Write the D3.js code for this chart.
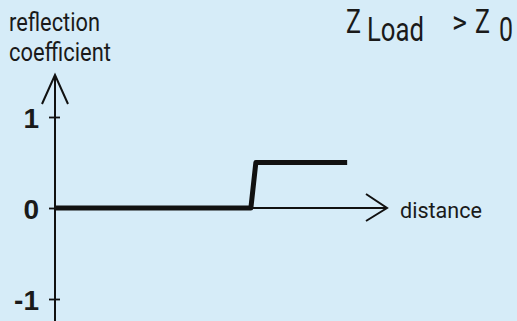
<!DOCTYPE html>
<html>
<head>
<meta charset="utf-8">
<script src="https://cdn.jsdelivr.net/npm/d3@7"></script>
<style>
  body { margin: 0; background: #d6ecf8; }
  svg { display: block; }
  text { font-family: "Roboto", "Liberation Sans", sans-serif; fill: #1a1a1a; }
</style>
</head>
<body>
<svg id="chart" width="517" height="321"></svg>
<script>
// distance along the line vs reflection coefficient (step at the load)
const distance = [0, 5.9, 6.05, 8.8];
const reflection = [0, 0, 0.5, 0.5];
const yTicks = [-1, 0, 1];
const yTickLabels = ["-1", "0", "1"];

const svg = d3.select("#chart");

const x = d3.scaleLinear().domain([0, 10]).range([55, 387]);
const y = d3.scaleLinear().domain([-1, 1]).range([299, 117]);

// y axis with ticks crossing the line
const yAxis = d3.axisLeft(y)
    .tickValues(yTicks)
    .tickFormat((d, i) => yTickLabels[i])
    .tickSize(6)
    .tickPadding(10)
    .tickSizeOuter(0);

const gy = svg.append("g")
    .attr("transform", `translate(${x(0)},0)`)
    .call(yAxis);
gy.select(".domain").remove();
gy.selectAll(".tick line")
    .attr("x1", -6).attr("x2", 5)
    .attr("stroke", "#111").attr("stroke-width", 1.8);
gy.selectAll(".tick text")
    .attr("dy", "0.36em")
    .style("font-family", "'Liberation Sans', Arial, sans-serif")
    .style("font-weight", "bold")
    .style("font-size", "28px")
    .attr("fill", "#111");

// axis lines with open arrowheads
svg.append("line")
    .attr("x1", x(0)).attr("x2", x(0))
    .attr("y1", 321).attr("y2", 75)
    .attr("stroke", "#111").attr("stroke-width", 2);
svg.append("path")
    .attr("d", `M${x(0) - 13},104 L${x(0)},75 L${x(0) + 13},104`)
    .attr("fill", "none").attr("stroke", "#111").attr("stroke-width", 2);

svg.append("line")
    .attr("x1", x(0)).attr("x2", x(10))
    .attr("y1", y(0)).attr("y2", y(0))
    .attr("stroke", "#111").attr("stroke-width", 2);
svg.append("path")
    .attr("d", `M${x(10) - 21},${y(0) - 14} L${x(10)},${y(0)} L${x(10) - 21},${y(0) + 13}`)
    .attr("fill", "none").attr("stroke", "#111").attr("stroke-width", 2);

// data line
const line = d3.line()
    .x((d, i) => x(distance[i]))
    .y(d => y(d));
svg.append("path")
    .datum(reflection)
    .attr("d", line)
    .attr("fill", "none")
    .attr("stroke", "#111")
    .attr("stroke-width", 5)
    .attr("stroke-linejoin", "round");

// labels (condensed by fitting the measured widths)
function label(txt, xp, yp, size, width) {
    svg.append("text").attr("x", xp).attr("y", yp)
        .style("font-size", size + "px")
        .attr("textLength", width).attr("lengthAdjust", "spacingAndGlyphs")
        .text(txt);
}
label("reflection", 9, 31, 25, 91);
label("coefficient", 9, 61, 25, 102);
label("distance", 400, 218, 22, 82);

label("Z", 346, 33, 33, 15);
label("Load", 367, 41, 33, 57);
label(">", 452, 33, 31, 15);
label("Z", 475, 33, 33, 15);
label("0", 499, 41, 33, 14);
</script>
</body>
</html>
